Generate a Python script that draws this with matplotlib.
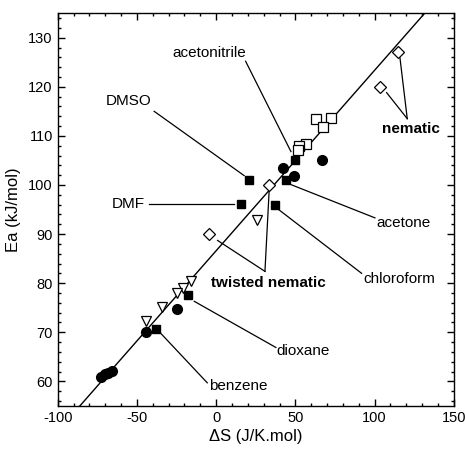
import matplotlib
matplotlib.use("Agg")
import matplotlib.pyplot as plt
from matplotlib.ticker import MultipleLocator
import numpy as np

plt.rcParams['font.family'] = ['Liberation Sans', 'DejaVu Sans']
plt.rcParams['axes.unicode_minus'] = False

# ---- data (ΔS in J/K.mol, Ea in kJ/mol) ----
filled_sq_x = [21, 16, 50, 44, 37, -18, -38]
filled_sq_y = [101.0, 96.2, 105.0, 101.0, 96.0, 77.5, 70.6]

circle_x = [67, 42, 49, -25, -44.5, -72.5, -70, -68, -66]
circle_y = [105.1, 103.4, 101.8, 74.8, 70.1, 60.8, 61.4, 61.8, 62.2]

tri_x = [26, -16, -21, -25, -34, -44]
tri_y = [92.8, 80.4, 79.0, 78.0, 75.1, 72.3]

open_sq_x = [62.8, 72.7, 67.7, 57, 52.5, 51.6]
open_sq_y = [113.4, 113.7, 111.8, 108.4, 108.0, 107.2]

diamond_x = [114.5, 103.5, 33.5, -4.5]
diamond_y = [127.0, 120.0, 100.0, 90.0]

fit_intercept = 86.6
fit_slope = 0.3676
fit_x = [-100, 150]

# annotations: (label, text x, text y, bold, [(x0, y0, x1, y1), ...])
annotations = [
    ("acetonitrile", -4.5, 126.8, False, [(18.6, 125.2, 47.2, 106.8)]),
    ("DMSO", -55.2, 117.1, False, [(-39.1, 115.0, 17.7, 101.9)]),
    ("DMF", -55.4, 96.2, False, [(-42.4, 96.2, 11.4, 96.2)]),
    ("acetone", 118.0, 92.2, False, [(100.2, 93.3, 47.0, 100.1)]),
    ("chloroform", 115.3, 80.9, False, [(91.8, 82.0, 39.4, 95.0)]),
    ("dioxane", 55.0, 66.2, False, [(37.7, 66.9, -13.8, 76.3)]),
    ("benzene", 13.8, 59.1, False, [(-5.6, 59.7, -35.3, 69.9)]),
    ("twisted nematic", 32.9, 80.1, True, [(30.8, 82.4, 33.5, 99.1),
                                           (30.8, 82.4, 0.9, 88.7)]),
    ("nematic", 122.7, 111.3, True, [(120.6, 113.5, 116.0, 125.9),
                                     (120.6, 113.5, 107.6, 118.8)]),
]

fig = plt.figure(figsize=(4.65, 4.53), dpi=100)
ax = fig.add_axes([0.124, 0.104, 0.852, 0.867])

fx = np.array(fit_x, dtype=float)
ax.plot(fx, fit_intercept + fit_slope * fx, color='black', lw=1.0, zorder=1)

for label, tx, ty, bold, segs in annotations:
    for (x0, y0, x1, y1) in segs:
        ax.plot([x0, x1], [y0, y1], color='black', lw=0.9, zorder=1)
    ax.text(tx, ty, label, ha='center', va='center', fontsize=11,
            fontweight='bold' if bold else 'normal', zorder=3)

ax.plot(filled_sq_x, filled_sq_y, 's', ms=5.2, mfc='black', mec='black', ls='none', zorder=4)
ax.plot(circle_x, circle_y, 'o', ms=7, mfc='black', mec='black', ls='none', zorder=4)
ax.plot(tri_x, tri_y, 'v', ms=7.5, mfc='white', mec='black', mew=0.9, ls='none', zorder=4)
ax.plot(open_sq_x, open_sq_y, 's', ms=6.5, mfc='white', mec='black', mew=0.9, ls='none', zorder=4)
ax.plot(diamond_x, diamond_y, 'D', ms=6.5, mfc='white', mec='black', mew=0.9, ls='none', zorder=4)

ax.set_xlim(-100, 150)
ax.set_ylim(55, 135)
ax.xaxis.set_major_locator(MultipleLocator(50))
ax.xaxis.set_minor_locator(MultipleLocator(10))
ax.yaxis.set_major_locator(MultipleLocator(10))
ax.yaxis.set_minor_locator(MultipleLocator(2))
ax.set_yticks(np.arange(60, 131, 10))
ax.tick_params(which='both', direction='in', top=True, right=True, labelsize=10.5, width=1.0)
ax.tick_params(which='major', length=5)
ax.tick_params(which='minor', length=2.5)
for s in ax.spines.values():
    s.set_linewidth(1.0)

ax.set_xlabel('ΔS (J/K.mol)', fontsize=12, labelpad=3)
ax.set_ylabel('Ea (kJ/mol)', fontsize=12, labelpad=5)

fig.savefig('out.png', dpi=100)
